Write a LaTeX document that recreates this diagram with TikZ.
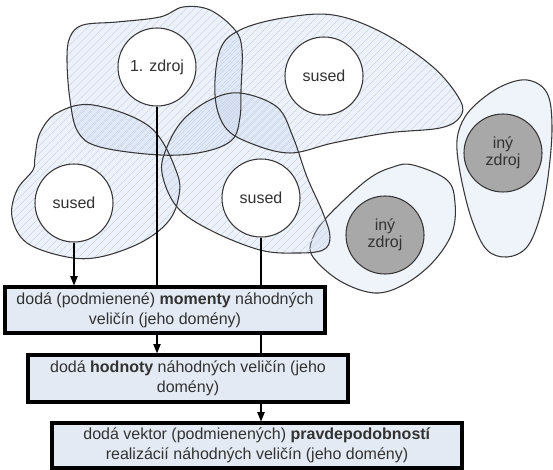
\documentclass[tikz,border=0pt]{standalone}
\usepackage{fontspec}
\setmainfont{Liberation Sans}
\usetikzlibrary{patterns.meta,arrows.meta,backgrounds}
\definecolor{blobfill}{RGB}{200,214,238}
\definecolor{hatch}{RGB}{205,215,232}
\definecolor{paleblob}{RGB}{239,243,250}
\definecolor{boxfill}{RGB}{228,234,244}
\definecolor{srcgray}{RGB}{168,168,168}
\definecolor{edge}{RGB}{55,55,55}
\definecolor{txt}{RGB}{50,50,50}
\pgfdeclarelayer{blobs}
\pgfdeclarelayer{links}
\pgfsetlayers{blobs,links,main}
\tikzset{
  blobline/.style={draw=edge, line width=0.8pt},
  hatchblob/.style={fill=blobfill, fill opacity=0.32},
  hatchlines/.style={pattern={Lines[angle=45,distance=4pt,line width=0.5pt]}, pattern color=hatch},
  paleshape/.style={fill=paleblob, draw=edge, line width=0.8pt},
  agent/.style={circle, draw=edge, line width=0.8pt, fill=white, minimum size=58.5pt, inner sep=0pt, align=center, text=txt, font=\fontsize{12}{13}\selectfont},
  source/.style={agent, fill=srcgray},
  stepbox/.style={draw=black, line width=2.3pt, fill=boxfill, inner sep=0pt, align=center, text=txt, font=\fontsize{12}{15}\selectfont},
  link/.style={draw=black, line width=0.8pt},
  arrowlink/.style={link, -{Triangle[length=7pt,width=5.5pt]}}
}
\begin{document}
\begin{tikzpicture}[x=0.75pt,y=-0.75pt]
\useasboundingbox (0,0) rectangle (553,470);

% circles
\node[agent] (z1) at (157,67) {1. zdroj};
\node[agent] (s1) at (324,76) {sused};
\node[agent] (s2) at (74,203) {sused};
\node[agent] (s3) at (261,198) {sused};
\node[source] (i1) at (385,235) {iný\\zdroj};
\node[source] (i2) at (503,153) {iný\\zdroj};

% boxes
\node[stepbox, minimum width=240pt, minimum height=34.5pt] (b1) at (165,310)
  {dodá (podmienené) \textbf{momenty} náhodných\\veličín (jeho domény)};
\node[stepbox, line width=2.5pt, minimum width=240pt, minimum height=35.25pt] (b2) at (188,378.5)
  {dodá \textbf{hodnoty} náhodných veličín (jeho\\domény)};
\node[stepbox, minimum width=307.5pt, minimum height=33.75pt] (b3) at (257,445.5)
  {dodá vektor (podmienených) \textbf{pravdepodobností}\\realizácií náhodných veličín (jeho domény)};

\begin{pgfonlayer}{blobs}
  % pale blobs
  \path[paleshape] plot[smooth cycle, tension=0.6] coordinates {
    (413,165) (447,180) (455,203) (452,233) (433,262) (405,284) (375,293)
    (340,281) (313,257) (312,240) (327,217) (367,180) (393,167)};
  \path[paleshape] plot[smooth cycle, tension=0.6] coordinates {
    (527,80) (547,93) (552,127) (548,177) (540,217) (527,247) (507,257)
    (487,250) (473,223) (463,187) (457,150) (460,127) (473,107) (500,87)};
  % hatched blobs
  \def\blobA{plot[smooth cycle, tension=0.6] coordinates {
    (67,60) (70,37) (83,25) (117,22) (160,17) (183,7) (210,10) (235,30) (242,50)
    (241,90) (240,117) (232,140) (203,152) (160,155) (100,147) (78,132) (70,100)}}
  \def\blobB{plot[smooth cycle, tension=0.6] coordinates {
    (215,95) (220,50) (240,30) (283,18) (333,15) (383,33) (433,67) (460,100)
    (460,117) (440,128) (387,133) (333,143) (290,153) (250,143) (225,127)}}
  \def\blobC{plot[smooth cycle, tension=0.6] coordinates {
    (57,113) (93,105) (150,127) (177,173) (178,200) (167,223) (140,243) (100,257)
    (67,257) (27,243) (12,217) (17,190) (33,170) (35,157) (40,133)}}
  \def\blobD{plot[smooth cycle, tension=0.6] coordinates {
    (240,93) (277,107) (293,137) (307,177) (323,213) (330,237) (323,250) (297,253)
    (260,250) (210,230) (177,207) (162,173) (167,147) (183,120) (210,100)}}
  \foreach \b in {\blobA,\blobB,\blobC,\blobD}{
    \path[hatchblob] \b;
    \path[hatchlines] \b;
  }
  \foreach \b in {\blobA,\blobB,\blobC,\blobD}{
    \path[blobline] \b;
  }
\end{pgfonlayer}

\begin{pgfonlayer}{links}
  \draw[arrowlink] (s2.south) -- (s2.south |- b1.north);
  \draw[arrowlink] (z1.south) -- (z1.south |- b2.north);
  \draw[arrowlink] (s3.south) -- (s3.south |- b3.north);
\end{pgfonlayer}
\end{tikzpicture}
\end{document}
